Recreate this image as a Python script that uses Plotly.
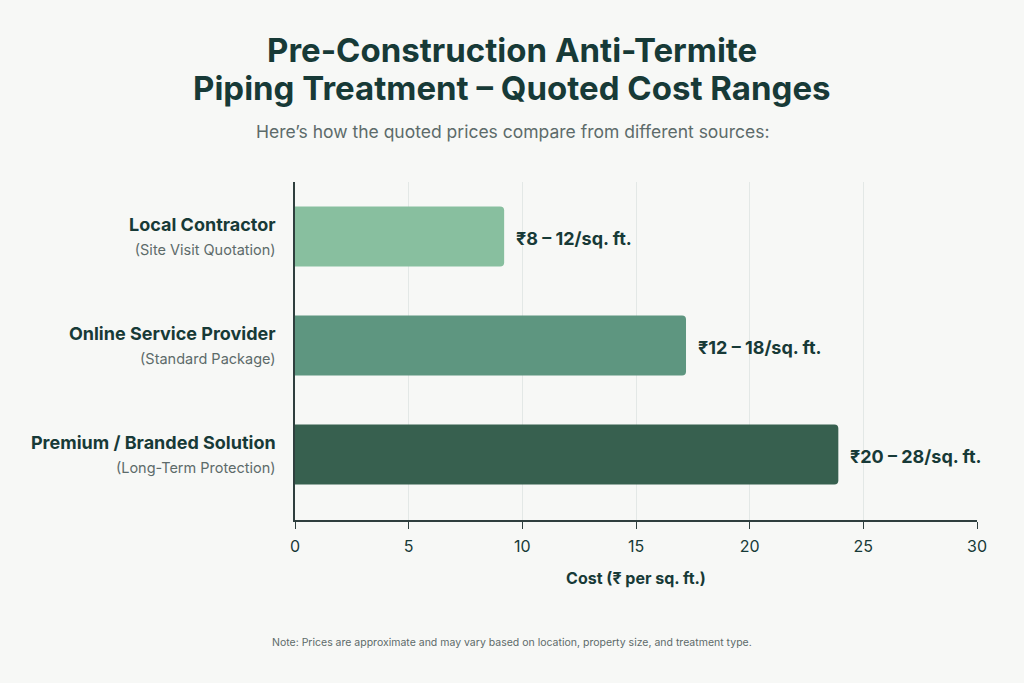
import plotly.graph_objects as go

# datos
sources = ["Local Contractor", "Online Service Provider", "Premium / Branded Solution"]
notes = ["(Site Visit Quotation)", "(Standard Package)", "(Long-Term Protection)"]
costs = [9.2, 17.2, 23.9]
ranges = ["₹8 – 12/sq. ft.", "₹12 – 18/sq. ft.", "₹20 – 28/sq. ft."]
colors = ["#88bf9f", "#5e9680", "#37604f"]
xticks = [0, 5, 10, 15, 20, 25, 30]

dark = "#173a37"
grey = "#5d6b6a"
fuente = "Inter, 'Open Sans', 'Noto Sans', sans-serif"

W, H = 1024, 683
ml, mr, mt, mb = 295, 47, 182, 163
cx = (W / 2 - ml) / (W - ml - mr)   # centro de la pagina en coordenadas paper


def py(pix):
    # posicion vertical en pixeles de la pagina -> paper
    return (H - mb - pix) / (H - mt - mb)


ypos = list(range(len(sources)))
ticktext = [
    f"<b>{s}</b><br><span style='font-size:14.5px;color:{grey}'>{n}</span>"
    for s, n in zip(sources, notes)
]

fig = go.Figure()
fig.add_trace(go.Bar(
    x=costs,
    y=ypos,
    orientation="h",
    width=0.55,
    marker=dict(color=colors, cornerradius=4, line=dict(width=0)),
    hoverinfo="skip",
))

# etiquetas de rango a la derecha de cada barra
for c, yy, r in zip(costs, ypos, ranges):
    fig.add_annotation(
        x=c, y=yy, text=f"<b>{r}</b>", showarrow=False,
        xanchor="left", xshift=10, yshift=-2,
        font=dict(size=18, color=dark, family=fuente),
    )

# titulo en dos lineas
for txt, pix in [("Pre-Construction Anti-Termite", 50),
                 ("Piping Treatment – Quoted Cost Ranges", 88)]:
    fig.add_annotation(
        x=cx, y=py(pix), xref="paper", yref="paper",
        xanchor="center", yanchor="middle",
        text=f"<b>{txt}</b>", showarrow=False,
        font=dict(size=33, color=dark, family=fuente),
    )

fig.add_annotation(
    x=cx, y=py(132), xref="paper", yref="paper", xanchor="center", yanchor="middle",
    text="Here’s how the quoted prices compare from different sources:",
    showarrow=False, font=dict(size=17.5, color=grey, family=fuente),
)
fig.add_annotation(
    x=cx, y=py(642), xref="paper", yref="paper", xanchor="center", yanchor="middle",
    text="Note: Prices are approximate and may vary based on location, property size, and treatment type.",
    showarrow=False, font=dict(size=10.5, color=grey, family=fuente),
)

fig.update_layout(
    width=W, height=H,
    paper_bgcolor="#f7f8f6", plot_bgcolor="#f7f8f6",
    margin=dict(l=ml, r=mr, t=mt, b=mb),
    showlegend=False,
    xaxis=dict(
        range=[0, 30], tickvals=xticks, showgrid=True, gridcolor="#e3e8e6", gridwidth=1,
        zeroline=False, showline=True, linecolor="#2f3f3e", linewidth=1.5,
        ticks="outside", ticklen=7, tickcolor="#2f3f3e", ticklabelstandoff=4,
        tickfont=dict(size=16, color=dark, family=fuente),
        title=dict(text="<b>Cost (₹ per sq. ft.)</b>", standoff=18,
                   font=dict(size=16, color=dark, family=fuente)),
    ),
    yaxis=dict(
        range=[2.6, -0.5], tickvals=ypos, ticktext=ticktext,
        showgrid=False, zeroline=False, showline=True, linecolor="#2f3f3e", linewidth=1.5,
        ticks="", ticklabelstandoff=14,
        tickfont=dict(size=18, color=dark, family=fuente),
    ),
)

fig.write_html("out.html", config={"displayModeBar": False},
               post_script="document.body.style.margin='0';")
